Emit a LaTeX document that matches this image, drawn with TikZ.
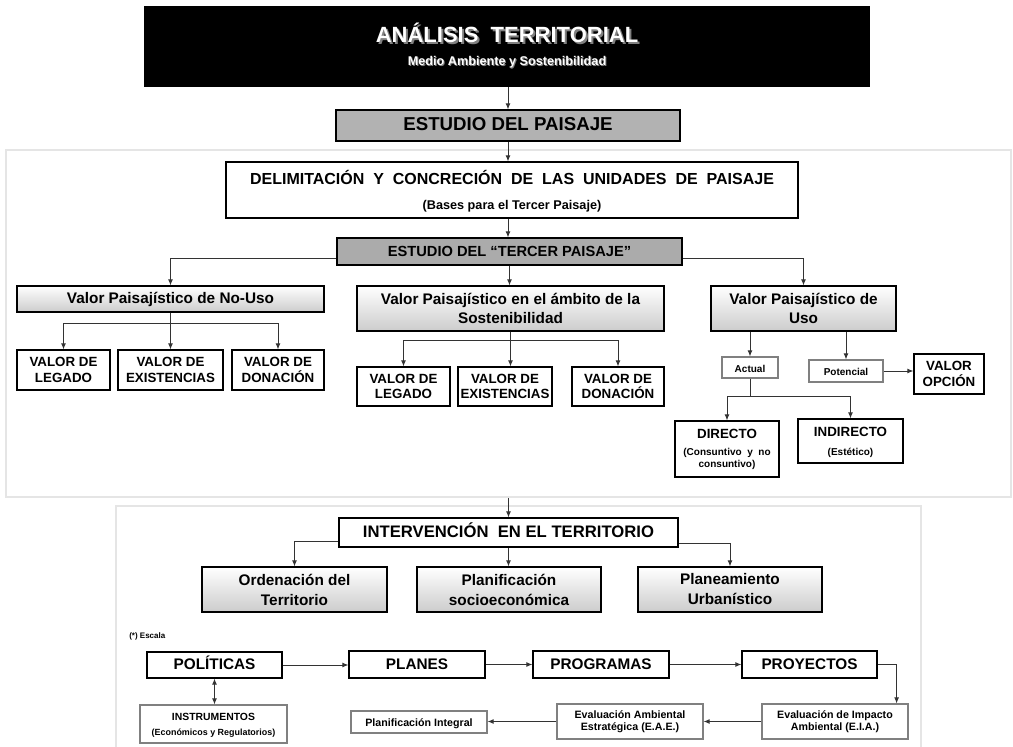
\documentclass[tikz,border=0pt]{standalone}
\usepackage{fontspec}
\setmainfont{Liberation Sans}
\usetikzlibrary{arrows.meta,calc}
\newcommand\fs[2]{\fontsize{#1}{#2}\selectfont\bfseries}
\begin{document}
\begin{tikzpicture}[x=0.75pt,y=-0.75pt,
  rect/.style n args={4}{minimum width={(#3-#1)*0.75pt}, minimum height={(#4-#2)*0.75pt}, at={({(#1+#3)/2},{(#2+#4)/2})}},
  bx/.style={draw=black, line width=0.9pt, inner sep=0pt, align=center},
  gbx/.style={draw=black!50, line width=0.9pt, inner sep=0pt, align=center},
  one/.style={text height=0.72em, text depth=0pt},
  grad/.style={top color=white, bottom color=black!20},
  dark/.style={fill=black!30},
  panel/.style={draw=black!10, line width=1.5pt, inner sep=0pt},
  txt/.style={inner sep=0pt, align=center},
  arr/.style={draw=black!80, line width=0.6pt, -{Latex[length=4.5pt,width=3.6pt]}},
  darr/.style={draw=black!80, line width=0.6pt, {Latex[length=4.5pt,width=3.6pt]}-{Latex[length=4.5pt,width=3.6pt]}},
]
\useasboundingbox (0,0) rectangle (1013,746);
\fill[white] (0,0) rectangle (1013,746);

% panels
\node[panel, rect={6}{150}{1011}{497}] (p1) {};
\node[panel, rect={116}{506}{921}{770}] (p2) {};

% title
\node[fill=black, inner sep=0pt, rect={144}{6}{870}{87}] (title) {};
\node[txt, text=black!50, font=\fs{16.5}{18}] (tsh) at (509,35) {ANÁLISIS\ \ TERRITORIAL};
\node[txt, text=white, font=\fs{16.5}{18}] (t1) at (507,33) {ANÁLISIS\ \ TERRITORIAL};
\node[txt, text=black!50, font=\fs{9.5}{11}] (ssh) at (508,63) {Medio Ambiente y Sostenibilidad};
\node[txt, text=white, font=\fs{9.5}{11}] (s1) at (507,62) {Medio Ambiente y Sostenibilidad};

% estudio del paisaje
\node[bx, one, dark, rect={336}{110}{680}{141}, font=\fs{14}{16}] (estudio) {ESTUDIO DEL PAISAJE};

% delimitacion
\node[bx, rect={226}{162}{798}{218}] (delim) {};
\node[txt, font=\fs{12}{14}] (delimt) at (512,177) {DELIMITACIÓN\ \ Y\ \ CONCRECIÓN\ \ DE\ \ LAS\ \ UNIDADES\ \ DE\ \ PAISAJE};
\node[txt, font=\fs{9.5}{11}] (delims) at (512,206) {(Bases para el Tercer Paisaje)};

% tercer paisaje
\node[bx, one, fill=black!33, rect={337}{238}{682}{265}, font=\fs{11}{13}] (tercer) {ESTUDIO DEL “TERCER PAISAJE”};

% three value boxes
\node[bx, one, grad, rect={17}{286}{324}{312}, font=\fs{11.5}{14}] (nouso) {Valor Paisajístico de No-Uso};
\node[bx, grad, rect={357}{286}{664}{331}, font=\fs{11.5}{14}] (sost) {Valor Paisajístico en el ámbito de la\\Sostenibilidad};
\node[bx, grad, rect={711}{286}{896}{331}, font=\fs{11.5}{14}] (uso) {Valor Paisajístico de\\Uso};

% left row
\node[bx, rect={17}{350}{110}{390}, font=\fs{10}{11.75}] (l1) {VALOR DE\\LEGADO};
\node[bx, rect={118}{350}{223}{390}, font=\fs{10}{11.75}] (l2) {VALOR DE\\EXISTENCIAS};
\node[bx, rect={232}{350}{324}{390}, font=\fs{10}{11.75}] (l3) {VALOR DE\\DONACIÓN};

% middle row
\node[bx, rect={357}{367}{450}{406}, font=\fs{10}{11.75}] (m1) {VALOR DE\\LEGADO};
\node[bx, rect={458}{367}{552}{406}, font=\fs{10}{11.75}] (m2) {VALOR DE\\EXISTENCIAS};
\node[bx, rect={572}{367}{664}{406}, font=\fs{10}{11.75}] (m3) {VALOR DE\\DONACIÓN};

% uso branch
\node[gbx, one, rect={722}{357}{778}{378}, font=\fs{7.5}{9}] (actual) {Actual};
\node[gbx, one, rect={809}{360}{883}{382}, font=\fs{7.5}{9}] (potencial) {Potencial};
\node[bx, rect={914}{354}{984}{394}, font=\fs{10}{11.75}] (opcion) {VALOR\\OPCIÓN};
\node[bx, rect={675}{421}{779}{477}] (directo) {};
\node[txt, font=\fs{10}{12}] (directot) at (727,434) {DIRECTO};
\node[txt, font=\fs{7.5}{9}] (directos) at (727,459) {(Consuntivo\ \ y\ \ no\\consuntivo)};
\node[bx, rect={798}{419}{903}{463}] (indirecto) {};
\node[txt, font=\fs{10}{12}] (indirectot) at (850.5,432) {INDIRECTO};
\node[txt, font=\fs{7.5}{9}] (indirectos) at (850.5,453) {(Estético)};

% intervention
\node[bx, one, rect={339}{518}{678}{547}, font=\fs{12.5}{15}] (interv) {INTERVENCIÓN\ \ EN EL TERRITORIO};
\node[bx, grad, rect={202}{567}{387}{612}, font=\fs{11.5}{15}] (ord) {Ordenación del\\Territorio};
\node[bx, grad, rect={417}{567}{601}{612}, font=\fs{11.5}{15}] (plan) {Planificación\\socioeconómica};
\node[bx, grad, rect={638}{567}{822}{612}, font=\fs{11.5}{15}] (plane) {Planeamiento\\Urbanístico};

\node[txt, anchor=west, font=\fs{6}{7}] (escala) at (129,636) {(*) Escala};

\node[bx, one, rect={147}{652}{282}{678}, font=\fs{11.5}{14}] (pol) {POLÍTICAS};
\node[bx, one, rect={349}{651}{485}{678}, font=\fs{11.5}{14}] (planes) {PLANES};
\node[bx, one, rect={533}{651}{669}{678}, font=\fs{11.5}{14}] (prog) {PROGRAMAS};
\node[bx, one, rect={742}{651}{877}{678}, font=\fs{11.5}{14}] (proy) {PROYECTOS};

\node[gbx, rect={140}{705}{287}{743}] (instr) {};
\node[txt, font=\fs{7.8}{9}] (instrt) at (213.5,717) {INSTRUMENTOS};
\node[txt, font=\fs{6.7}{8}] (instrs) at (213.5,733) {(Económicos y Regulatorios)};
\node[gbx, one, rect={351}{711}{487}{733}, font=\fs{8}{9}] (pi) {Planificación Integral};
\node[gbx, rect={557}{704}{703}{739}, font=\fs{8}{9}] (eae) {Evaluación Ambiental\\Estratégica (E.A.E.)};
\node[gbx, rect={762}{704}{908}{739}, font=\fs{8}{9}] (eia) {Evaluación de Impacto\\Ambiental (E.I.A.)};

% connectors
\draw[arr] (estudio.north |- title.south) -- (estudio.north);
\draw[arr] (estudio.south) -- (estudio.south |- delim.north);
\draw[arr] (estudio.south |- delim.south) -- (estudio.south |- tercer.north);
\draw[arr] ($(tercer.south west)!0.26!(tercer.north west)$) -| (nouso.north);
\draw[arr] (tercer.south) -- (tercer.south |- sost.north);
\draw[arr] ($(tercer.south east)!0.26!(tercer.north east)$) -| (uso.north);

\draw[arr] (nouso.south) -- (l2.north);
\draw[arr] (nouso.south) -- ++(0,11) -| (l1.north);
\draw[arr] (nouso.south) -- ++(0,11) -| (l3.north);

\draw[arr] (sost.south) -- (sost.south |- m2.north);
\draw[arr] (sost.south) -- ++(0,9) -| (m1.north);
\draw[arr] (sost.south) -- ++(0,9) -| (m3.north);

\draw[arr] (actual.north |- uso.south) -- (actual.north);
\draw[arr] (potencial.north |- uso.south) -- (potencial.north);
\draw[arr] (potencial.east) -- (potencial.east -| opcion.west);
\draw[arr] (actual.south) -- ++(0,18) -| (directo.north);
\draw[arr] (actual.south) -- ++(0,18) -| (indirecto.north);

\draw[arr] (interv.north |- p1.south) -- (interv.north);
\draw[arr] ($(interv.south west)!0.2!(interv.north west)$) -| (ord.north);
\draw[arr] (interv.south) -- (interv.south |- plan.north);
\draw[arr] ($(interv.south east)!0.15!(interv.north east)$) -| (plane.north);

\draw[arr] (pol.east) -- (pol.east -| planes.west);
\draw[arr] (planes.east) -- (planes.east -| prog.west);
\draw[arr] (prog.east) -- (prog.east -| proy.west);
\draw[arr] (proy.east) -| ([xshift=-9pt]eia.north east);
\draw[arr] (eia.west) -- (eae.east);
\draw[arr] (eae.west) -- (eae.west -| pi.east);
\draw[darr] (pol.south) -- (pol.south |- instr.north);
\end{tikzpicture}
\end{document}
